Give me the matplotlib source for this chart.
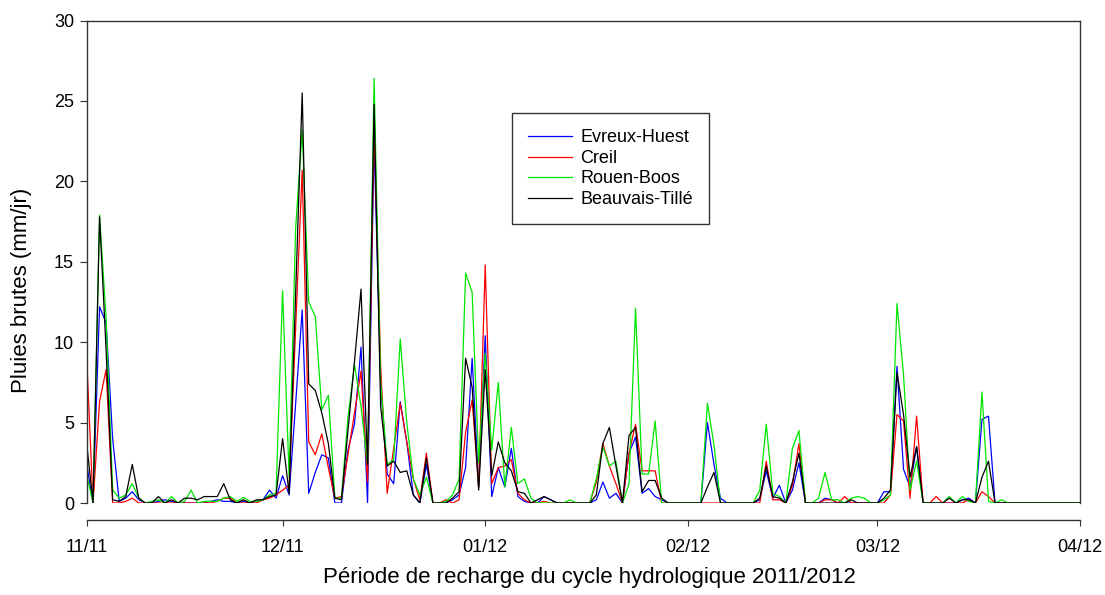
import pandas as pd
import matplotlib
matplotlib.use("Agg")
import matplotlib.pyplot as plt
import matplotlib.dates as mdates

plt.rcParams['font.family'] = ['Liberation Sans', 'DejaVu Sans']

# daily rainfall, 01/11/2011 -> 01/04/2012 (153 days)
days = pd.date_range('2011-11-01', '2012-04-01', freq='D')

evreux = [
    # nov
    2.5, 0, 12.2, 11.2, 4.0, 0.1, 0.3, 0.7, 0.2, 0,
    0, 0.1, 0.2, 0.1, 0, 0, 0, 0, 0, 0.1,
    0.2, 0.1, 0.1, 0, 0.1, 0, 0.1, 0.2, 0.8, 0.3,
    # dec
    1.7, 0.5, 6.2, 12.0, 0.6, 1.9, 3.0, 2.8, 0, 0,
    3.3, 4.9, 9.7, 0, 22.5, 7.5, 1.8, 1.2, 6.3, 3.8,
    0.5, 0, 2.4, 0, 0, 0, 0.2, 0.5, 2.2, 9.0, 1.0,
    # jan
    10.4, 0.4, 2.2, 1.0, 3.4, 0.4, 0.1, 0, 0, 0.4,
    0.2, 0, 0, 0, 0, 0, 0, 0.2, 1.3, 0.3,
    0.6, 0, 3.1, 4.1, 0.6, 0.9, 0.4, 0.2, 0, 0, 0,
    # feb
    0, 0, 0, 5.0, 2.4, 0.3, 0, 0, 0, 0,
    0, 0.2, 2.0, 0.3, 1.1, 0, 0.8, 2.5, 0, 0,
    0, 0.3, 0.2, 0, 0, 0, 0, 0, 0,
    # mar
    0, 0.7, 0.7, 8.5, 2.1, 1.0, 3.5, 0, 0, 0,
    0, 0, 0, 0.2, 0.3, 0, 5.2, 5.4, 0, 0,
    0, 0, 0, 0, 0, 0, 0, 0, 0, 0, 0,
    # apr
    0,
]

creil = [
    9.3, 0, 6.3, 8.3, 0, 0, 0.1, 0.3, 0, 0,
    0, 0, 0, 0, 0, 0, 0, 0, 0, 0,
    0.1, 0.3, 0.3, 0, 0, 0, 0, 0.2, 0.3, 0.5,
    0.8, 1.1, 10.9, 20.7, 3.8, 3.0, 4.3, 2.2, 0.3, 0.4,
    3.0, 5.6, 8.2, 1.3, 23.5, 8.5, 0.6, 3.4, 6.2, 3.8,
    1.5, 0.2, 3.1, 0, 0, 0.2, 0, 0.2, 4.4, 6.4, 1.0,
    14.8, 1.2, 2.2, 2.3, 2.7, 0.6, 0.2, 0, 0, 0.1,
    0, 0, 0, 0, 0, 0, 0, 1.3, 3.7, 2.3,
    1.2, 0, 3.1, 4.9, 2.0, 2.0, 2.0, 0, 0, 0, 0,
    0, 0, 0, 0, 0, 0, 0, 0, 0, 0,
    0, 0, 2.6, 0.2, 0.2, 0, 1.1, 3.7, 0, 0,
    0, 0.2, 0.2, 0, 0.4, 0, 0, 0, 0,
    0, 0, 0.5, 5.5, 5.1, 0.3, 5.4, 0, 0, 0.4,
    0, 0, 0, 0, 0.2, 0, 0.7, 0.4, 0, 0,
    0, 0, 0, 0, 0, 0, 0, 0, 0, 0, 0,
    0,
]

rouen = [
    1.8, 0, 17.9, 11.5, 0.8, 0.3, 0.5, 1.2, 0.3, 0,
    0.1, 0.2, 0, 0.4, 0, 0.1, 0.8, 0, 0.1, 0.1,
    0.1, 0.3, 0.4, 0.1, 0.35, 0.1, 0.1, 0.2, 0.5, 0.6,
    13.2, 1.6, 17.1, 23.2, 12.5, 11.6, 5.8, 6.7, 0.3, 0.3,
    5.3, 8.6, 6.0, 2.4, 26.4, 7.5, 2.4, 2.7, 10.2, 5.0,
    1.5, 0.5, 1.6, 0, 0, 0.1, 0.5, 1.5, 14.3, 13.1, 2.5,
    9.3, 3.3, 7.5, 1.0, 4.7, 1.2, 1.5, 0.3, 0, 0,
    0, 0, 0, 0.2, 0, 0, 0, 1.5, 3.5, 2.3,
    2.6, 0, 1.2, 12.1, 1.8, 1.8, 5.1, 0, 0, 0, 0,
    0, 0, 0, 6.2, 3.6, 0, 0, 0, 0, 0,
    0, 0.8, 4.9, 0.6, 0.4, 0, 3.4, 4.5, 0, 0,
    0.3, 1.9, 0.2, 0.2, 0, 0.3, 0.4, 0.3, 0,
    0, 0.2, 0.5, 12.4, 8.0, 0.8, 2.6, 0, 0, 0,
    0, 0.4, 0, 0.4, 0.1, 0, 6.9, 0.1, 0, 0.2,
    0, 0, 0, 0, 0, 0, 0, 0, 0, 0, 0,
    0,
]

beauvais = [
    3.8, 0, 17.8, 9.5, 0.2, 0.1, 0.4, 2.4, 0.3, 0,
    0, 0.4, 0, 0.2, 0, 0.3, 0.3, 0.2, 0.4, 0.4,
    0.4, 1.2, 0.2, 0, 0.2, 0, 0.2, 0.2, 0.4, 0.5,
    4.0, 0.6, 13.0, 25.5, 7.4, 7.0, 5.6, 3.7, 0.3, 0.2,
    4.5, 8.8, 13.3, 2.4, 24.8, 6.0, 2.3, 2.6, 1.9, 2.0,
    0.5, 0, 2.8, 0, 0, 0, 0.3, 0.7, 9.0, 7.2, 0.8,
    8.3, 1.7, 3.8, 2.5, 2.0, 0.7, 0.6, 0, 0.2, 0.4,
    0.2, 0, 0, 0, 0, 0, 0, 0.5, 3.7, 4.7,
    2.3, 0, 4.2, 4.7, 0.7, 1.4, 1.4, 0.3, 0, 0, 0,
    0, 0, 0, 1.0, 1.9, 0, 0, 0, 0, 0,
    0, 0.3, 2.3, 0.4, 0.3, 0, 1.3, 3.1, 0, 0,
    0, 0, 0, 0, 0, 0.2, 0, 0, 0,
    0, 0.3, 0.8, 8.1, 5.5, 1.6, 3.5, 0, 0, 0,
    0, 0.3, 0, 0.2, 0.2, 0, 1.6, 2.6, 0, 0,
    0, 0, 0, 0, 0, 0, 0, 0, 0, 0, 0,
    0,
]

stations = ['Evreux-Huest', 'Creil', 'Rouen-Boos', 'Beauvais-Tillé']
colors = ['#0000ff', '#ff0000', '#00e600', '#000000']

W, H = 1105, 595
fig = plt.figure(figsize=(W / 100, H / 100), dpi=100)
ax = fig.add_axes([86.5 / W, 1 - 503 / H, (1080 - 86.5) / W, (503 - 20.5) / H])

for serie, name, c in zip([evreux, creil, rouen, beauvais], stations, colors):
    ax.plot(days, serie, color=c, lw=0.9, label=name)

ax.set_xlim(days[0], days[-1])
ax.set_ylim(0, 30)
ax.set_yticks([0, 5, 10, 15, 20, 25, 30])
ax.xaxis.set_major_locator(mdates.MonthLocator())
ax.xaxis.set_major_formatter(mdates.DateFormatter('%m/%y'))

for s in ax.spines.values():
    s.set_color('#333333')
    s.set_linewidth(1.0)
ax.spines['bottom'].set_position(('outward', 12))
ax.tick_params(axis='y', direction='out', length=5, width=0.8, color='#333333',
               labelsize=13, pad=4)
ax.tick_params(axis='x', direction='out', length=4, width=0.8, color='#333333',
               labelsize=13, pad=10)

fig.text(22 / W, 1 - 290 / H, 'Pluies brutes (mm/jr)', rotation=90,
         ha='center', va='center', fontsize=16)
fig.text(589 / W, 1 - 578 / H, 'Période de recharge du cycle hydrologique 2011/2012',
         ha='center', va='center', fontsize=16)

leg = ax.legend(loc='upper left', bbox_to_anchor=(512 / W, 1 - 113 / H),
                bbox_transform=fig.transFigure, fancybox=False, framealpha=1,
                edgecolor='#333333', fontsize=13, handlelength=2.4,
                handletextpad=0.5, labelspacing=0.2, borderpad=0.9,
                borderaxespad=0)
leg.get_frame().set_linewidth(1.0)

fig.savefig('out.png', dpi=100)
